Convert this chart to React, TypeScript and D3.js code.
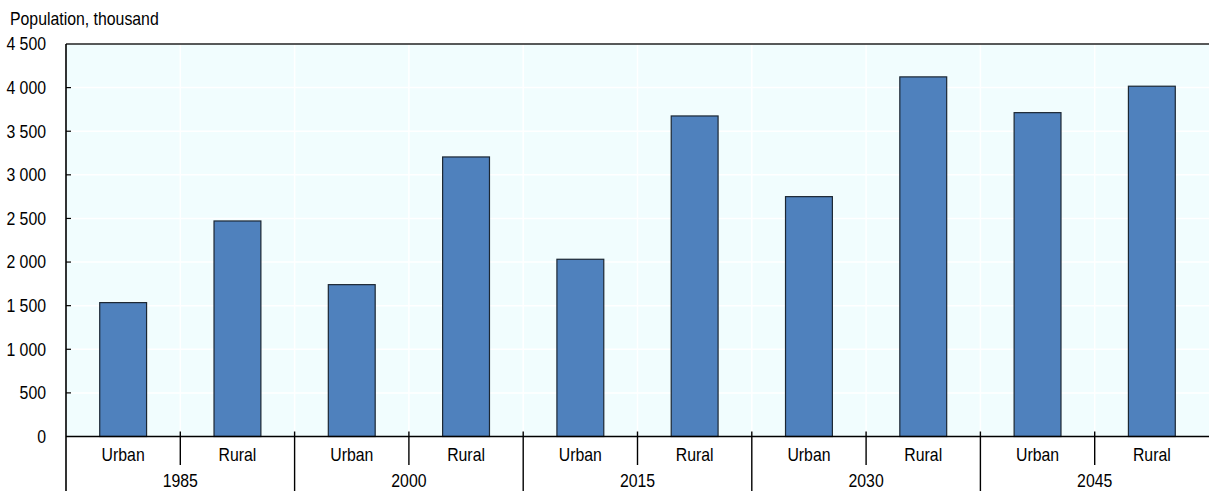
import React from "react";
import * as d3 from "d3";

const years = ["1985", "2000", "2015", "2030", "2045"];
const areas = ["Urban", "Rural"];
const urbanValues = [1535, 1741, 2032, 2750, 3713];
const ruralValues = [2471, 3205, 3675, 4123, 4016];
const yTicks = [0, 500, 1000, 1500, 2000, 2500, 3000, 3500, 4000, 4500];

const W = 1209;
const H = 491;
const left = 66;
const right = 1209;
const top = 44;
const bottom = 436.5;

function T(props: { x: number; y: number; anchor?: string; dy?: string; children: React.ReactNode }) {
  return (
    <text transform={`translate(${props.x},${props.y}) scale(0.88,1)`} textAnchor={props.anchor || "start"}
      dy={props.dy} fontSize={18} fill="#000">{props.children}</text>
  );
}

export default function App() {
  const cats = years.flatMap((y) => areas.map((a) => `${y}|${a}`));
  const values = years.flatMap((_, i) => [urbanValues[i], ruralValues[i]]);
  const x = d3.scaleBand<string>().domain(cats).range([left, right]).paddingInner(0.59).paddingOuter(0.295);
  const slot = d3.scaleBand<string>().domain(cats).range([left, right]);
  const y = d3.scaleLinear().domain([0, 4500]).range([bottom, top]);
  const fmt = (v: number) => d3.format(",")(v).replace(/,/g, " ");
  const font = "'Liberation Sans', Arial, sans-serif";

  return (
    <svg width={W} height={H} style={{ position: "absolute", left: 0, top: 0 }} fontFamily={font}>
      <rect x={left} y={top} width={right - left} height={bottom - top} fill="#f1fdfe" />
      {yTicks.slice(1, -1).map((t) => (
        <line key={"g" + t} x1={left} x2={right} y1={y(t)} y2={y(t)} stroke="#ffffff" strokeWidth={1.5} />
      ))}
      {cats.slice(1).map((c) => (
        <line key={"v" + c} x1={slot(c)!} x2={slot(c)!} y1={top} y2={bottom} stroke="#ffffff" strokeWidth={1.5} />
      ))}
      {cats.map((c, i) => (
        <rect key={c} x={x(c)!} y={y(values[i])} width={x.bandwidth()} height={bottom - y(values[i])}
          fill="#4f81bd" stroke="#1c2733" strokeWidth={1.2} />
      ))}
      <line x1={left} x2={right} y1={top} y2={top} stroke="#222" strokeWidth={1.6} />
      <line x1={left} x2={left} y1={top} y2={H} stroke="#000" strokeWidth={1.6} />
      <line x1={left} x2={right} y1={bottom} y2={bottom} stroke="#000" strokeWidth={1.6} />
      {yTicks.map((t) => (
        <g key={"t" + t}>
          {t > 0 && t < 4500 && <line x1={left} x2={left + 5} y1={y(t)} y2={y(t)} stroke="#000" strokeWidth={1.2} />}
          <T x={46} y={y(t)} dy="0.35em" anchor="end">{fmt(t)}</T>
        </g>
      ))}
      {years.map((yr, i) => {
        const uc = `${yr}|Urban`;
        const rc = `${yr}|Rural`;
        const mid = slot(rc)!;
        const end = slot(rc)! + slot.bandwidth();
        return (
          <g key={yr}>
            <line x1={mid} x2={mid} y1={bottom - 5} y2={465} stroke="#000" strokeWidth={1.4} />
            {i < years.length - 1 && <line x1={end} x2={end} y1={bottom - 5} y2={H} stroke="#000" strokeWidth={1.4} />}
            <T x={slot(uc)! + slot.bandwidth() / 2} y={461} anchor="middle">Urban</T>
            <T x={slot(rc)! + slot.bandwidth() / 2} y={461} anchor="middle">Rural</T>
            <T x={mid} y={487} anchor="middle">{yr}</T>
          </g>
        );
      })}
      <T x={10} y={25}>Population, thousand</T>
    </svg>
  );
}
